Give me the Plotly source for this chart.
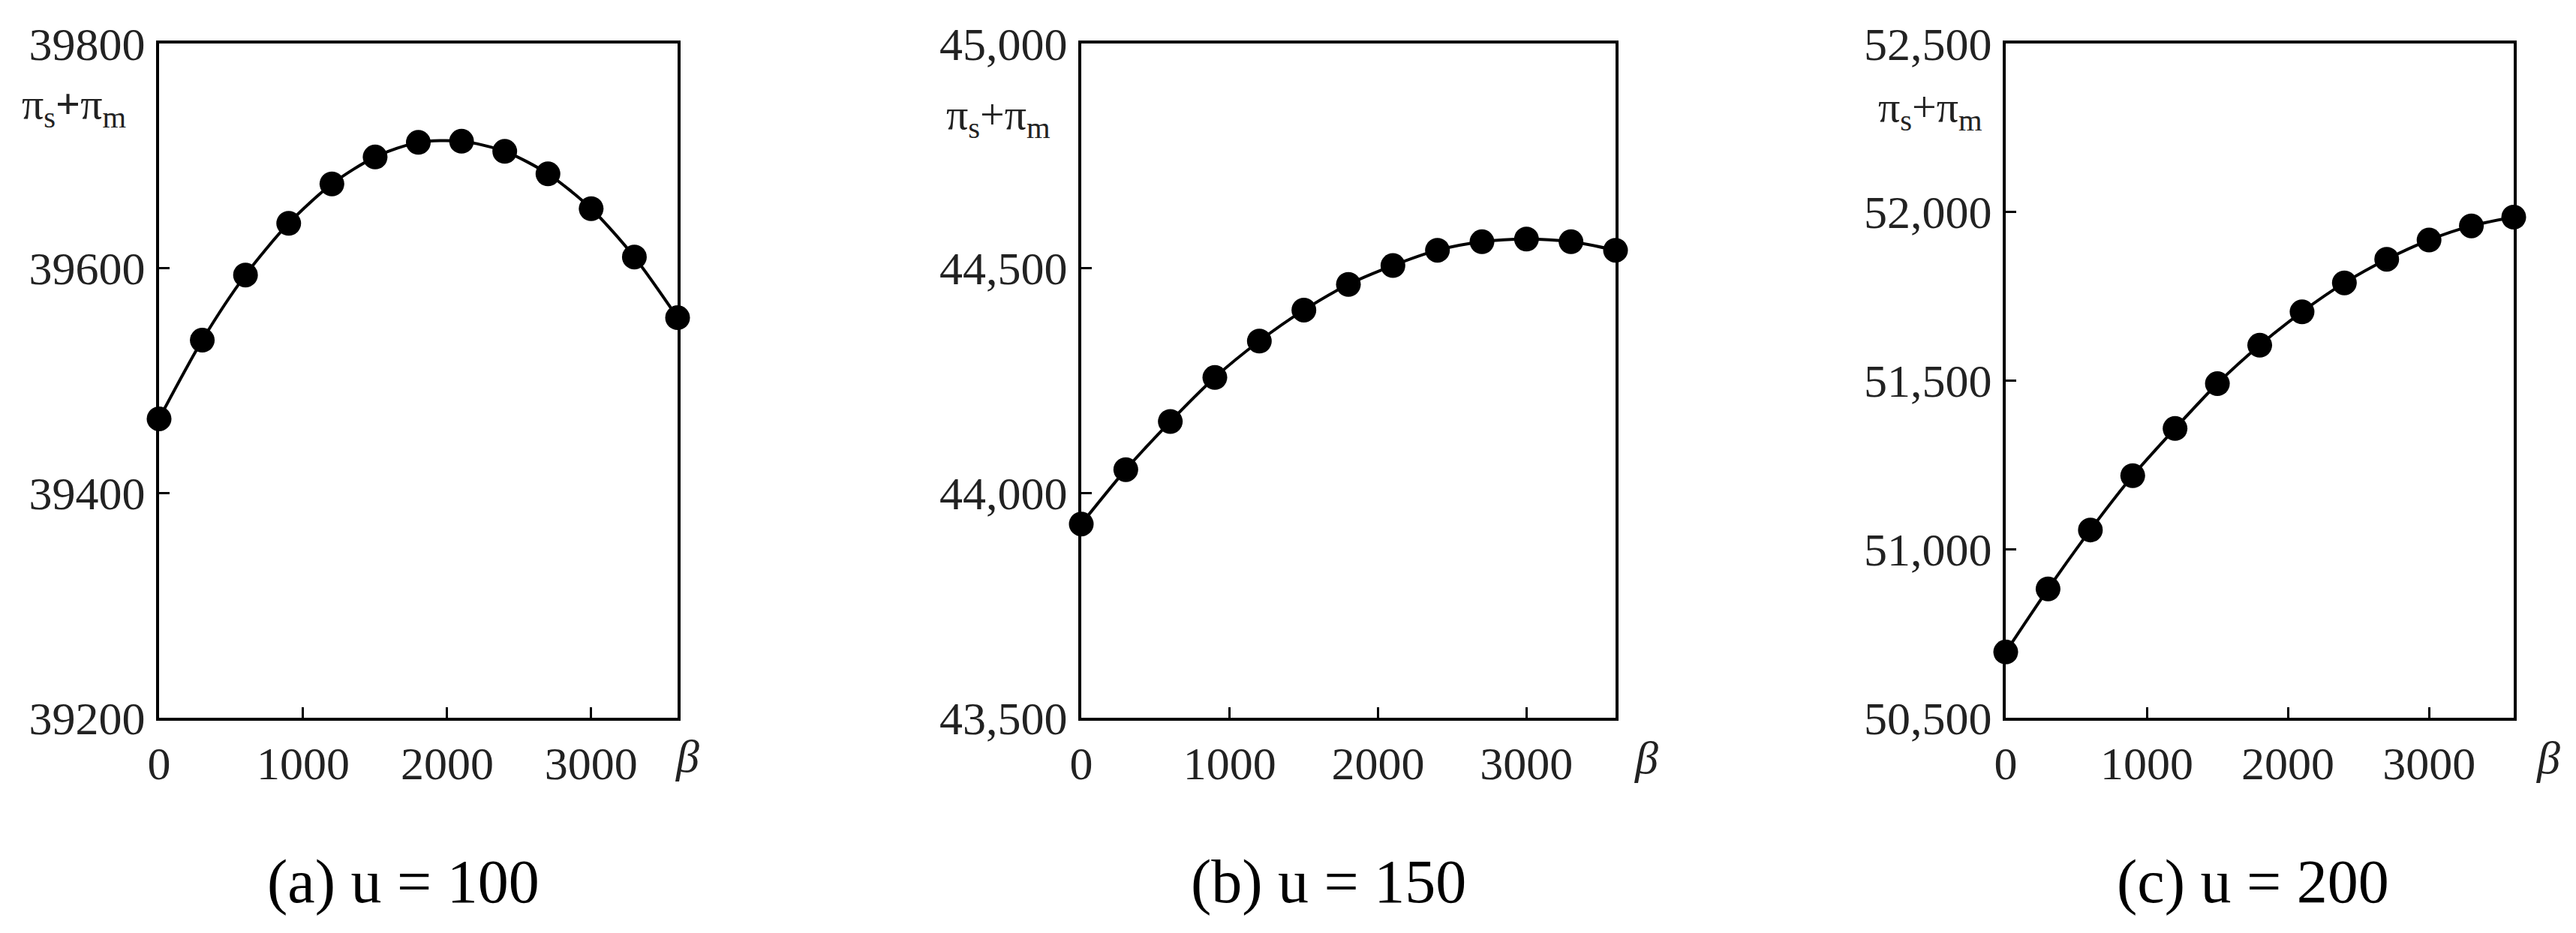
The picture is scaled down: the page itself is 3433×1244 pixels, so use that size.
import plotly.graph_objects as go
from plotly.subplots import make_subplots

# beta values shared by all three panels
beta = [0, 300, 600, 900, 1200, 1500, 1800, 2100, 2400, 2700, 3000, 3300, 3600]

# pi_s + pi_m for each u
profit_u100 = [39466, 39536, 39594, 39640, 39675, 39699, 39712, 39713, 39704, 39684, 39653, 39610, 39556]
profit_u150 = [43931, 44052, 44159, 44257, 44338, 44407, 44464, 44506, 44540, 44559, 44565, 44559, 44540]
profit_u200 = [50695, 50882, 51057, 51218, 51358, 51491, 51605, 51704, 51790, 51860, 51917, 51959, 51985]

x_ticks = [0, 1000, 2000, 3000]
y_ticks_a = [39200, 39400, 39600, 39800]
y_ticks_b = [43500, 44000, 44500, 45000]
y_ticks_c = [50500, 51000, 51500, 52000, 52500]

captions = ["(a) u = 100", "(b) u = 150", "(c) u = 200"]

W, H = 3433, 1244
OFF = 8  # page body margin pushes the figure 8px right/down
FONT = "Liberation Serif"


def px_x(v):
    return (v - OFF) / W


def px_y(v):
    return 1 - (v - OFF) / H


fig = make_subplots(rows=1, cols=3)

series = [profit_u100, profit_u150, profit_u200]
for i, y in enumerate(series):
    fig.add_trace(go.Scatter(x=beta, y=y, mode="lines+markers",
                             line=dict(color="black", width=4, shape="spline", smoothing=0.8),
                             marker=dict(color="black", size=33),
                             showlegend=False, cliponaxis=False),
                  row=1, col=i + 1)

# plot box positions in pixels (left, right)
boxes = [(212, 903), (1441, 2153), (2673, 3350)]
top_px, bottom_px = 58, 957
y_dom = [px_y(bottom_px), px_y(top_px)]
y_ranges = [[39200, 39800], [43500, 45000], [50500, 52500]]
y_ticks = [y_ticks_a, y_ticks_b, y_ticks_c]
y_fmt = ["d", ",d", ",d"]

axis_common = dict(showline=True, linecolor="black", linewidth=4, mirror=True,
                   ticks="inside", ticklen=14, tickwidth=3, tickcolor="black",
                   showgrid=False, zeroline=False, automargin=False,
                   tickfont=dict(family=FONT, size=62, color="#222"))

for i in range(3):
    l, r = boxes[i]
    fig.update_xaxes(domain=[px_x(l), px_x(r)], range=[0, 3600], tickvals=x_ticks,
                     ticklabelstandoff=4, row=1, col=i + 1, **axis_common)
    fig.update_yaxes(domain=y_dom, range=y_ranges[i], tickvals=y_ticks[i],
                     tickformat=y_fmt[i], ticklabelstandoff=2,
                     row=1, col=i + 1, **axis_common)

annotations = []
# y axis titles
ytitle_pos = [(98, 142), (1330, 156), (2572, 146)]
ytitle_text = ["π<sub>s</sub><b>+</b>π<sub>m</sub>", "π<sub>s</sub>+π<sub>m</sub>", "π<sub>s</sub>+π<sub>m</sub>"]
for (px, py), t in zip(ytitle_pos, ytitle_text):
    annotations.append(dict(x=px_x(px), y=px_y(py), xref="paper", yref="paper",
                            text=t, showarrow=False, xanchor="center", yanchor="middle",
                            font=dict(family=FONT, size=58, color="#222")))
# beta labels
beta_pos = [(916, 1008), (2194, 1010), (3396, 1010)]
for px, py in beta_pos:
    annotations.append(dict(x=px_x(px), y=px_y(py), xref="paper", yref="paper",
                            text="<i>β</i>", showarrow=False, xanchor="center", yanchor="middle",
                            font=dict(family=FONT, size=62, color="#222")))
# captions
cap_pos = [(537, 1175), (1770, 1175), (3002, 1175)]
for (px, py), t in zip(cap_pos, captions):
    annotations.append(dict(x=px_x(px), y=px_y(py), xref="paper", yref="paper",
                            text=t, showarrow=False, xanchor="center", yanchor="middle",
                            font=dict(family=FONT, size=82, color="black")))

fig.update_layout(width=W, height=H, margin=dict(l=0, r=0, t=0, b=0),
                  paper_bgcolor="white", plot_bgcolor="white",
                  annotations=annotations)

fig.write_html("out.html")
